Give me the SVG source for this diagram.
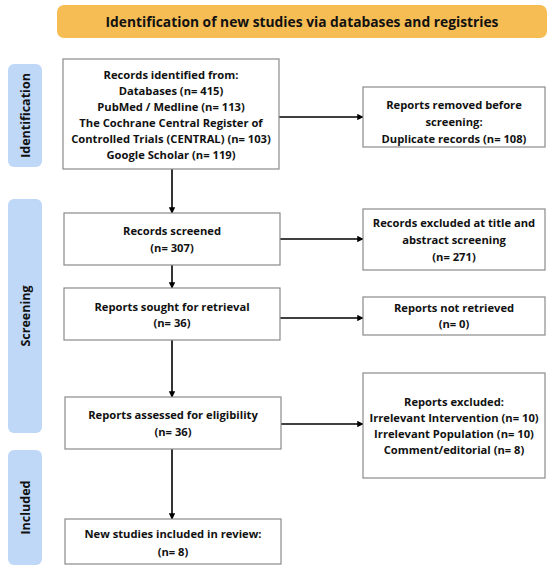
<svg xmlns="http://www.w3.org/2000/svg" width="550" height="571" viewBox="0 0 550 571">
<defs>
<marker id="ah" viewBox="0 0 10 10" refX="9" refY="5" markerWidth="4" markerHeight="4" orient="auto" markerUnits="strokeWidth">
<path d="M0,0 L10,5 L0,10 z" fill="#000"/>
</marker>
<style>
.box{fill:#fff;stroke:#8a8a8a;stroke-width:1.2}
.side{fill:#bfd8f8}
.t{font-family:"Open Sans","Liberation Sans",sans-serif;font-weight:700;font-size:11.2px;fill:#111;text-anchor:middle}
.ti{font-family:"Open Sans","Liberation Sans",sans-serif;font-weight:700;font-size:13.8px;fill:#111;text-anchor:middle}
.sl{font-family:"Open Sans","Liberation Sans",sans-serif;font-weight:700;font-size:12.5px;fill:#111;text-anchor:middle}
.c{stroke:#000;stroke-width:1.6;fill:none;marker-end:url(#ah)}
</style>
</defs>
<rect width="550" height="571" fill="#fff"/>
<g id="banner">
<rect x="57" y="5" width="490" height="33" rx="7" fill="#f7bd55"/>
<text class="ti" x="302" y="26.5">Identification of new studies via databases and registries</text>
</g>
<g id="label-identification">
<rect class="side" x="8" y="64" width="34" height="103" rx="6"/>
<text class="sl" transform="translate(29.5,115.5) rotate(-90)">Identification</text>
</g>
<g id="label-screening">
<rect class="side" x="8" y="199" width="34" height="234" rx="6"/>
<text class="sl" transform="translate(29.5,316) rotate(-90)">Screening</text>
</g>
<g id="label-included">
<rect class="side" x="8" y="450" width="34" height="115" rx="6"/>
<text class="sl" transform="translate(29.5,507.5) rotate(-90)">Included</text>
</g>
<g id="connectors">
<line class="c" x1="172" y1="169" x2="172" y2="213"/>
<line class="c" x1="172" y1="265" x2="172" y2="288"/>
<line class="c" x1="172" y1="340" x2="172" y2="397"/>
<line class="c" x1="172" y1="449" x2="172" y2="519"/>
<line class="c" x1="279" y1="117" x2="363" y2="117"/>
<line class="c" x1="280" y1="239" x2="363" y2="239"/>
<line class="c" x1="280" y1="318" x2="363" y2="318"/>
<line class="c" x1="281" y1="424" x2="363" y2="424"/>
</g>
<g id="records-identified">
<rect class="box" x="63" y="59" width="216" height="110"/>
<text class="t" x="171" y="79">Records identified from:</text>
<text class="t" x="171" y="95">Databases (n= 415)</text>
<text class="t" x="171" y="111">PubMed / Medline (n= 113)</text>
<text class="t" x="171" y="127">The Cochrane Central Register of</text>
<text class="t" x="171" y="143">Controlled Trials (CENTRAL) (n= 103)</text>
<text class="t" x="171" y="159">Google Scholar (n= 119)</text>
</g>
<g id="removed">
<rect class="box" x="363" y="87" width="182" height="60"/>
<text class="t" x="454" y="109">Reports removed before</text>
<text class="t" x="454" y="126">screening:</text>
<text class="t" x="454" y="143">Duplicate records (n= 108)</text>
</g>
<g id="screened">
<rect class="box" x="64" y="213" width="216" height="52"/>
<text class="t" x="172" y="235">Records screened</text>
<text class="t" x="172" y="252">(n= 307)</text>
</g>
<g id="excluded-title">
<rect class="box" x="363" y="209" width="182" height="61"/>
<text class="t" x="454" y="227">Records excluded at title and</text>
<text class="t" x="454" y="244">abstract screening</text>
<text class="t" x="454" y="261">(n= 271)</text>
</g>
<g id="sought">
<rect class="box" x="64" y="288" width="216" height="52"/>
<text class="t" x="172" y="311">Reports sought for retrieval</text>
<text class="t" x="172" y="327">(n= 36)</text>
</g>
<g id="not-retrieved">
<rect class="box" x="363" y="297" width="182" height="38"/>
<text class="t" x="454" y="312">Reports not retrieved</text>
<text class="t" x="454" y="328">(n= 0)</text>
</g>
<g id="assessed">
<rect class="box" x="65" y="397" width="216" height="52"/>
<text class="t" x="173" y="419">Reports assessed for eligibility</text>
<text class="t" x="173" y="436">(n= 36)</text>
</g>
<g id="excluded">
<rect class="box" x="363" y="373" width="182" height="105"/>
<text class="t" x="454" y="406">Reports excluded:</text>
<text class="t" x="454" y="422">Irrelevant Intervention (n= 10)</text>
<text class="t" x="454" y="438">Irrelevant Population (n= 10)</text>
<text class="t" x="454" y="454">Comment/editorial (n= 8)</text>
</g>
<g id="included">
<rect class="box" x="65" y="519" width="216" height="45"/>
<text class="t" x="173" y="538">New studies included in review:</text>
<text class="t" x="173" y="556">(n= 8)</text>
</g>
</svg>
